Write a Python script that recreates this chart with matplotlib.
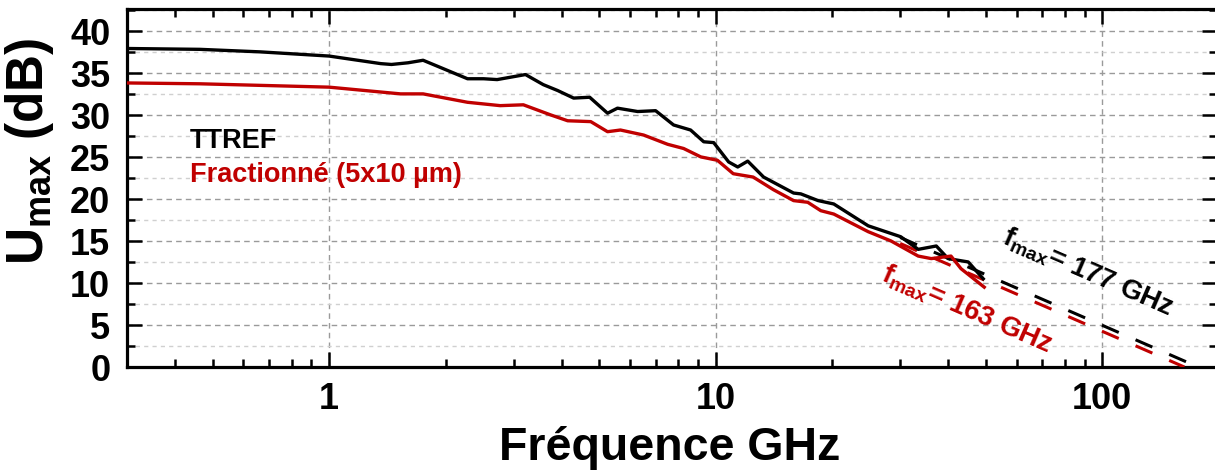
import numpy as np
import matplotlib
matplotlib.use("Agg")
import matplotlib.pyplot as plt
from matplotlib.ticker import LogLocator, MultipleLocator, NullFormatter, FixedLocator, FixedFormatter

plt.rcParams['font.family'] = ['Liberation Sans', 'DejaVu Sans']
plt.rcParams['font.weight'] = 'bold'
plt.rcParams['mathtext.fontset'] = 'custom'
plt.rcParams['mathtext.rm'] = 'Liberation Sans:bold'
plt.rcParams['mathtext.it'] = 'Liberation Sans:bold'
plt.rcParams['mathtext.bf'] = 'Liberation Sans:bold'
plt.rcParams['mathtext.default'] = 'rm'

# ---- data ----
ttref_freq = [0.30, 0.463, 0.663, 1.0, 1.36, 1.45, 1.6, 1.75, 2.28, 2.51, 2.72, 3.22, 3.58, 3.90,
              4.29, 4.72, 5.25, 5.57, 6.28, 6.99, 7.78, 8.61, 9.31, 9.88, 10.8, 11.4, 12.1,
              13.3, 15.9, 16.6, 18.4, 20.2, 24.8, 30.1, 33.4, 37.2, 39.9, 45.0, 49.2]
ttref_db = [37.9, 37.8, 37.5, 37.0, 36.1, 36.0, 36.2, 36.5, 34.3, 34.3, 34.2, 34.8, 33.6, 32.9,
            32.0, 32.1, 30.2, 30.8, 30.4, 30.5, 28.8, 28.2, 26.8, 26.7, 24.4, 23.8, 24.5,
            22.6, 20.7, 20.6, 19.8, 19.4, 16.8, 15.5, 14.0, 14.4, 12.9, 12.5, 10.5]

frac_freq = [0.30, 0.463, 1.0, 1.53, 1.75, 2.28, 2.77, 3.18, 3.74, 4.14, 4.75, 5.25, 5.67,
             6.51, 7.51, 8.26, 9.15, 10.1, 11.1, 12.5, 14.1, 15.9, 17.3, 18.7, 20.2, 24.8,
             28.4, 33.4, 36.1, 40.6, 43.1, 49.5]
frac_db = [33.8, 33.7, 33.3, 32.5, 32.5, 31.5, 31.1, 31.2, 30.0, 29.3, 29.2, 28.0, 28.2,
           27.6, 26.5, 26.0, 25.0, 24.6, 23.0, 22.6, 21.1, 19.8, 19.6, 18.6, 18.2, 16.1,
           15.0, 13.2, 12.9, 13.2, 11.7, 9.5]

fmax_ttref = 177.0
fmax_frac = 163.0
extrap_start = 30.0

series_labels = ["TTREF", "Fractionné (5x10 µm)"]
fmax_labels = ["f$_{max}$= 177 GHz", "f$_{max}$= 163 GHz"]
xtick_vals = [1, 10, 100]
xtick_labels = ["1", "10", "100"]

black = "#000000"
red = "#c00000"

fig = plt.figure(figsize=(12.15, 4.77), dpi=100)
ax = fig.add_axes([127/1215, 1-368/477, 1090/1215, 358/477])

ax.set_xscale('log')
ax.set_xlim(0.3, 198)
ax.set_ylim(0, 42.6)

# extrapolation lines (-20 dB/decade)
for fm, col in [(fmax_ttref, black), (fmax_frac, red)]:
    fx = np.logspace(np.log10(extrap_start), np.log10(fm), 50)
    ax.plot(fx, 20*np.log10(fm/fx), color=col, lw=2.2, linestyle=(0, (6, 6)), zorder=3)

ax.plot(ttref_freq, ttref_db, color=black, lw=2.4, zorder=4)
ax.plot(frac_freq, frac_db, color=red, lw=2.4, zorder=4)

# grid
ax.yaxis.set_major_locator(MultipleLocator(5))
ax.yaxis.set_minor_locator(MultipleLocator(2.5))
ax.xaxis.set_major_locator(FixedLocator(xtick_vals))
ax.xaxis.set_major_formatter(FixedFormatter(xtick_labels))
ax.xaxis.set_minor_locator(LogLocator(base=10, subs=np.arange(2, 10)))
ax.xaxis.set_minor_formatter(NullFormatter())
ax.grid(which='major', axis='both', color='#9a9a9a', linestyle=(0, (4, 3)), lw=1.0, zorder=0)
ax.grid(which='minor', axis='y', color='#d0d0d0', linestyle=(0, (3, 3)), lw=1.0, zorder=0)

for s in ax.spines.values():
    s.set_linewidth(2.3)
ax.tick_params(which='major', direction='in', length=11, width=1.8, top=True, right=True,
               labelsize=26)
ax.tick_params(which='minor', direction='in', length=5.5, width=1.8, top=True, right=True)
ax.tick_params(axis='y', which='major', pad=12)
ax.tick_params(axis='x', which='major', pad=10)
for lab in ax.get_xticklabels() + ax.get_yticklabels():
    lab.set_fontweight('bold')

ax.text(0.058, 0.634, series_labels[0], transform=ax.transAxes, color=black, fontsize=19.5,
        fontweight='bold', va='center', ha='left')
ax.text(0.058, 0.539, series_labels[1], transform=ax.transAxes, color=red, fontsize=19.5,
        fontweight='bold', va='center', ha='left')

ax.text(92, 11.4, fmax_labels[0], color=black, fontsize=20, rotation=-23.5,
        ha='center', va='center', rotation_mode='anchor')
ax.text(44.5, 7.0, fmax_labels[1], color=red, fontsize=20, rotation=-23.5,
        ha='center', va='center', rotation_mode='anchor')

fig.text(670/1215, 1-448/477, "Fréquence GHz", fontsize=33.5, fontweight='bold',
         ha='center', va='center')
fig.text(29/1215, 1-151/477, "U$_{max}$ (dB)", fontsize=37, fontweight='bold',
         ha='center', va='center', rotation=90)

fig.savefig("out.png", dpi=100)
